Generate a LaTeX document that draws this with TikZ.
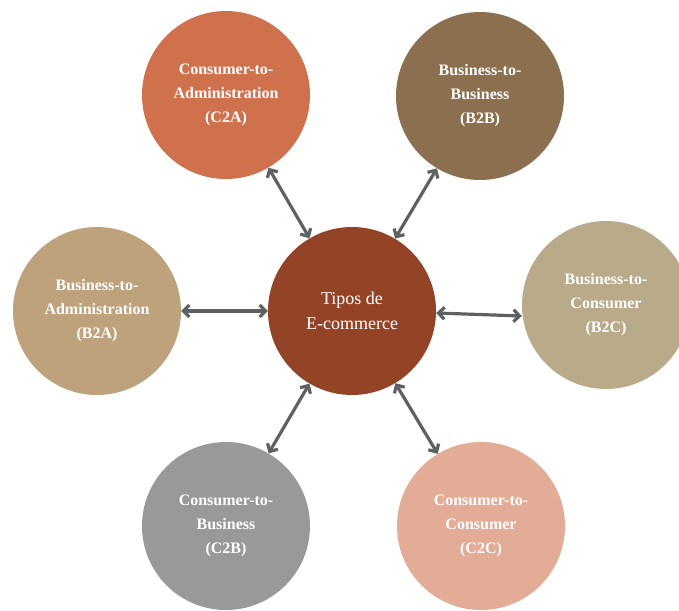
\documentclass[tikz,border=0pt]{standalone}
\usepackage{fontspec}
\setmainfont{Liberation Serif}
\usetikzlibrary{arrows.meta}
\definecolor{cCtr}{HTML}{944426}
\definecolor{cCtA}{HTML}{D0714E}
\definecolor{cBtB}{HTML}{8B6F4E}
\definecolor{cBtA}{HTML}{BEA27C}
\definecolor{cBtC}{HTML}{B9AA8A}
\definecolor{cCtB}{HTML}{999999}
\definecolor{cCtC}{HTML}{E2AC97}
\definecolor{cArr}{HTML}{5E6163}
\tikzset{
  bubble/.style={circle, minimum size=168pt, inner sep=0pt, text=white, align=center,
    font=\fontsize{16}{24}\selectfont\bfseries},
  link/.style={draw=cArr, line width=3.2pt, {Straight Barb[length=6pt,width=12pt]}-{Straight Barb[length=6pt,width=12pt]}}
}
\begin{document}
\begin{tikzpicture}[x=1pt,y=-1pt]
\useasboundingbox[fill=white] (0,0) rectangle (679,610);
\node[bubble, fill=cCtr, font=\fontsize{18}{25}\selectfont] (ctr) at (352,311) {Tipos de\\E-commerce};
\node[bubble, fill=cCtA] (cta) at (226,95) {Consumer-to-\\Administration\\(C2A)};
\node[bubble, fill=cBtB] (btb) at (480,96) {Business-to-\\Business\\(B2B)};
\node[bubble, fill=cBtA] (bta) at (97,311) {Business-to-\\Administration\\(B2A)};
\node[bubble, fill=cBtC] (btc) at (606,305) {Business-to-\\Consumer\\(B2C)};
\node[bubble, fill=cCtB] (ctb) at (226,526) {Consumer-to-\\Business\\(C2B)};
\node[bubble, fill=cCtC] (ctc) at (481,526) {Consumer-to-\\Consumer\\(C2C)};
\draw[link] (ctr) -- (cta);
\draw[link] (ctr) -- (btb);
\draw[link] (ctr) -- (bta);
\draw[link] ([yshift=-2pt]ctr.east) -- ([yshift=-11pt]btc.west);
\draw[link] (ctr) -- (ctb);
\draw[link] (ctr) -- (ctc);
\end{tikzpicture}
\end{document}
